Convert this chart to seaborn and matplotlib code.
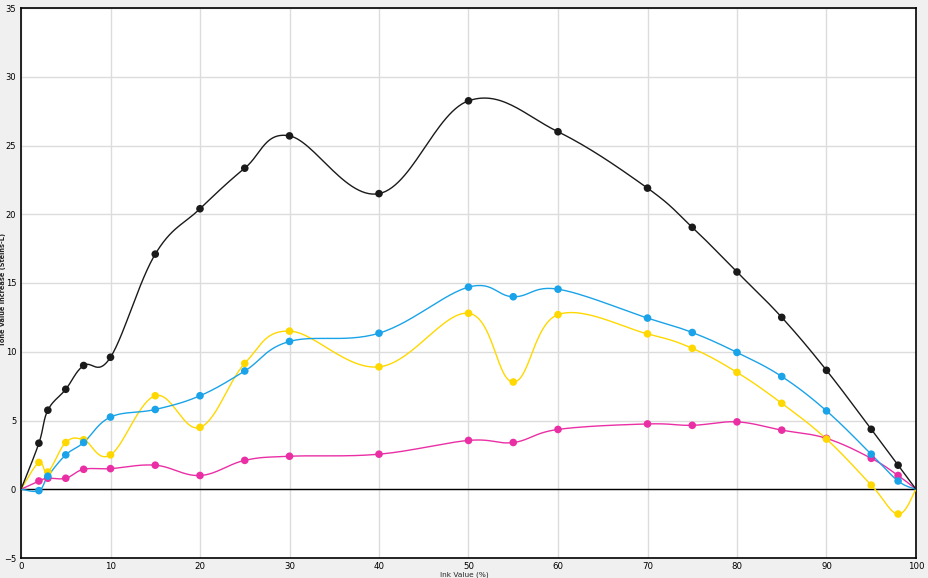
import numpy as np
import pandas as pd
import matplotlib
matplotlib.use("Agg")
import matplotlib.pyplot as plt
import seaborn as sns

# ---- data ----
x_k = [0, 2, 3, 5, 7, 10, 15, 20, 25, 30, 40, 50, 60, 70, 75, 80, 85, 90, 95, 98, 100]
y_k = [0, 3.35, 5.75, 7.27, 9.0, 9.6, 17.1, 20.4, 23.35, 25.7, 21.5, 28.25, 26.0, 21.9, 19.05, 15.8, 12.5, 8.65, 4.36, 1.75, 0]

x_cmy = [0, 2, 3, 5, 7, 10, 15, 20, 25, 30, 40, 50, 55, 60, 70, 75, 80, 85, 90, 95, 98, 100]
y_c = [0, -0.1, 0.95, 2.5, 3.4, 5.25, 5.8, 6.8, 8.6, 10.75, 11.35, 14.7, 14.0, 14.55, 12.45, 11.4, 9.95, 8.2, 5.7, 2.55, 0.6, 0]
y_y = [0, 1.95, 1.25, 3.4, 3.6, 2.5, 6.8, 4.5, 9.15, 11.5, 8.9, 12.8, 7.8, 12.7, 11.3, 10.25, 8.5, 6.25, 3.65, 0.3, -1.8, 0]
y_m = [0, 0.6, 0.8, 0.8, 1.45, 1.5, 1.75, 1.0, 2.1, 2.4, 2.55, 3.55, 3.4, 4.35, 4.75, 4.65, 4.9, 4.3, 3.7, 2.25, 1.0, 0]

x_ticks = list(range(0, 101, 10))
y_ticks = list(range(-5, 36, 5))

colors = {"K": "#1a1a1a", "C": "#1aa3e8", "Y": "#ffd800", "M": "#ea2fa5"}


def cardinal(xs, ys, sx=8.95, sy=13.75, n=30, tension=0.55):
    P = np.column_stack([np.asarray(xs, float) * sx, np.asarray(ys, float) * sy])
    ext = np.vstack([P[0], P, P[-1]])
    out = [P[0]]
    t = np.linspace(0, 1, n)[1:]
    for i in range(len(P) - 1):
        p0, p1, p2, p3 = ext[i], ext[i + 1], ext[i + 2], ext[i + 3]
        c1 = p1 + tension * (p2 - p0) / 3.0
        c2 = p2 - tension * (p3 - p1) / 3.0
        tt = t[:, None]
        seg = ((1 - tt) ** 3) * p1 + 3 * ((1 - tt) ** 2) * tt * c1 + 3 * (1 - tt) * tt ** 2 * c2 + tt ** 3 * p2
        out.extend(seg)
    out = np.array(out)
    return out[:, 0] / sx, out[:, 1] / sy


series = [("K", x_k, y_k), ("C", x_cmy, y_c), ("Y", x_cmy, y_y), ("M", x_cmy, y_m)]

sns.set_style("white")
fig = plt.figure(figsize=(9.29, 5.78), dpi=100, facecolor="#f0f0f0")
ax = fig.add_axes([21 / 929, 20 / 578, 895 / 929, 550 / 578])
ax.set_facecolor("white")

ax.set_xlim(0, 100)
ax.set_ylim(-5, 35)
ax.set_xticks(x_ticks)
ax.set_yticks(y_ticks)
ax.grid(True, color="#dcdcdc", linewidth=1.0, zorder=0)
ax.axhline(0, color="black", linewidth=1.0, zorder=1)

for name, xs, ys in series[::-1]:
    sxv, syv = cardinal(xs, ys)
    sm = pd.DataFrame({"x": sxv, "y": syv})
    sns.lineplot(data=sm, x="x", y="y", sort=False, color=colors[name], linewidth=1.0, ax=ax, zorder=3)
    pts = pd.DataFrame({"x": xs[1:-1], "y": ys[1:-1]})
    sns.scatterplot(data=pts, x="x", y="y", color=colors[name], s=30, edgecolor="none", ax=ax, zorder=4)

for s in ax.spines.values():
    s.set_color("black")
    s.set_linewidth(1.2)
    s.set_visible(True)

ax.tick_params(axis="y", direction="out", length=2.5, width=1, labelsize=6.0, colors="black", pad=1)
ax.tick_params(axis="x", direction="out", length=2.5, width=1, labelsize=6.2, colors="black", pad=0.5)
ax.set_xlabel("")
ax.set_ylabel("")
fig.text(0.5, 0.0, "Ink Value (%)", fontsize=5.3, ha="center", va="bottom")
fig.text(0.0, 0.5, "Tone Value Increase (Steins-L)", fontsize=4.8, fontweight="bold",
         rotation=90, ha="left", va="center")

fig.savefig("out.png", dpi=100, facecolor=fig.get_facecolor())
